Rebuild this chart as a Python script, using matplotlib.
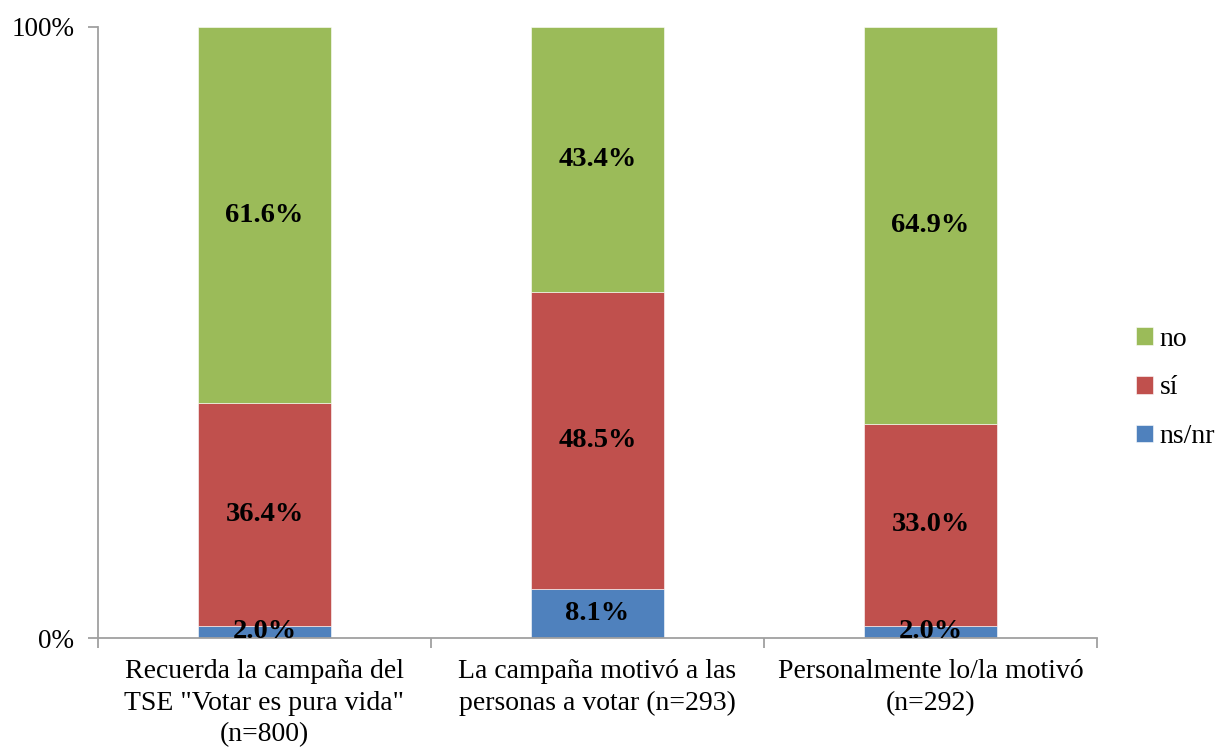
import matplotlib

matplotlib.use("Agg")

import matplotlib.pyplot as plt
import numpy as np

categories = [
    'Recuerda la campaña del\nTSE "Votar es pura vida"\n(n=800)',
    "La campaña motivó a las\npersonas a votar (n=293)",
    "Personalmente lo/la motivó\n(n=292)",
]
ns_nr = [2.0, 8.1, 2.0]
si = [36.4, 48.5, 33.0]
no = [61.6, 43.4, 64.9]

series = [("ns/nr", ns_nr, "#4F81BD"), ("sí", si, "#C0504D"), ("no", no, "#9BBB59")]

plt.rcParams["font.family"] = ["Liberation Serif", "DejaVu Serif"]

fig = plt.figure(figsize=(12.17, 7.48), dpi=100)
ax = fig.add_axes([98 / 1217, 1 - 638 / 748, 999 / 1217, 611 / 748])

# 100% stacked: scale each column to its total
totals = np.sum([np.asarray(v) for _, v, _ in series], axis=0)
x = np.arange(len(categories))
bottom = np.zeros(len(categories))
handles = {}
for name, values, color in series:
    values = np.asarray(values)
    heights = values / totals * 100
    bars = ax.bar(x, heights, width=0.4, bottom=bottom, color=color, edgecolor="white", linewidth=0.4)
    handles[name] = bars
    for xi, b, h, v in zip(x, bottom, heights, values):
        ax.text(xi, b + h / 2, f"{v:.1f}%", ha="center", va="center",
                fontsize=20.5, fontweight="bold", color="black")
    bottom = bottom + heights

ax.set_xlim(-0.5, 2.5)
ax.set_ylim(0, 100)
ax.set_yticks([0, 100])
ax.set_yticklabels(["0%", "100%"], fontsize=19.5)
ax.set_xticks(x)
ax.set_xticklabels(categories, fontsize=20, linespacing=1.36)
ax.tick_params(axis="x", which="major", length=0, pad=15)
ax.set_xticks([-0.5, 0.5, 1.5, 2.5], minor=True)
ax.tick_params(axis="x", which="minor", length=7, color="#A0A0A0", width=1.3)
ax.tick_params(axis="y", length=7, color="#A0A0A0", width=1.3, pad=10)

for side in ("top", "right"):
    ax.spines[side].set_visible(False)
for side in ("left", "bottom"):
    ax.spines[side].set_color("#A0A0A0")
    ax.spines[side].set_linewidth(1.3)

ax.legend(
    [handles["no"], handles["sí"], handles["ns/nr"]],
    ["no", "sí", "ns/nr"],
    loc="center left",
    bbox_to_anchor=(1136 / 1217, 1 - 388 / 748),
    bbox_transform=fig.transFigure,
    frameon=False,
    borderpad=0,
    borderaxespad=0,
    fontsize=20,
    handlelength=0.6,
    handleheight=0.6,
    handletextpad=0.25,
    labelspacing=0.85,
)

fig.savefig("out.png", dpi=100)
plt.close(fig)
